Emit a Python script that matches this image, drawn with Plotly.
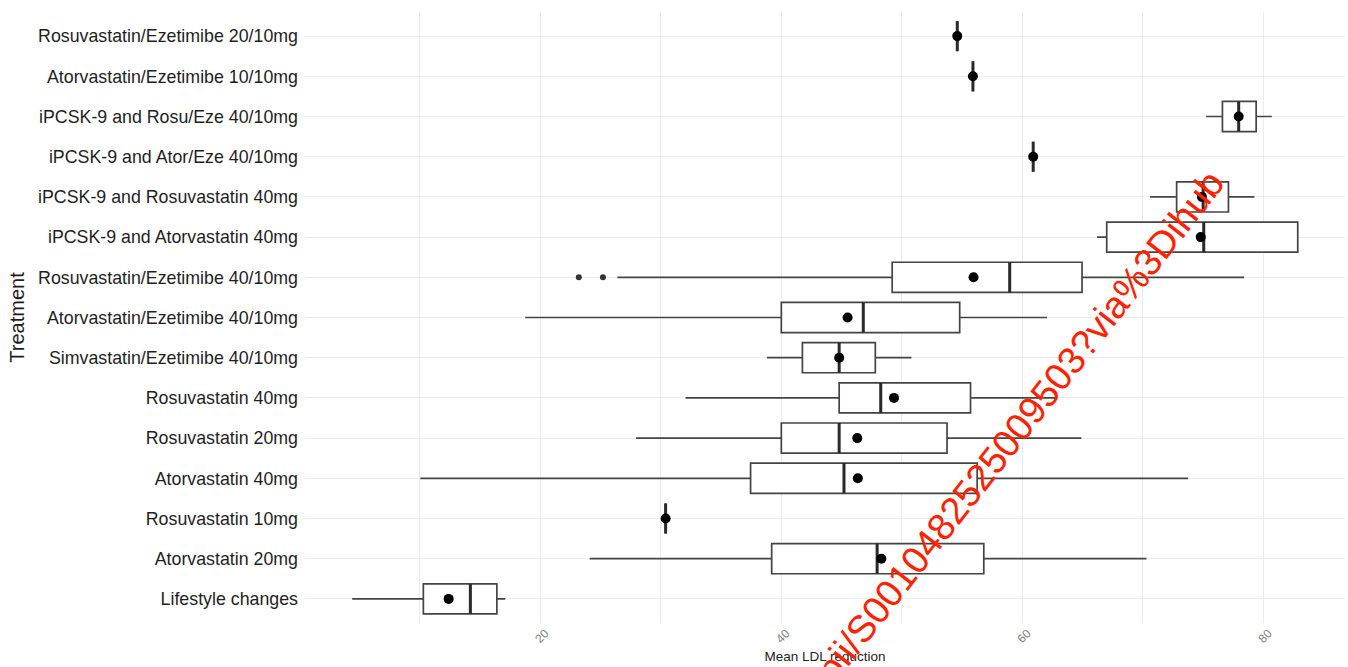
import plotly.graph_objects as go

# Treatments listed top to bottom
treatments = [
    "Rosuvastatin/Ezetimibe 20/10mg",
    "Atorvastatin/Ezetimibe 10/10mg",
    "iPCSK-9 and Rosu/Eze 40/10mg",
    "iPCSK-9 and Ator/Eze 40/10mg",
    "iPCSK-9 and Rosuvastatin 40mg",
    "iPCSK-9 and Atorvastatin 40mg",
    "Rosuvastatin/Ezetimibe 40/10mg",
    "Atorvastatin/Ezetimibe 40/10mg",
    "Simvastatin/Ezetimibe 40/10mg",
    "Rosuvastatin 40mg",
    "Rosuvastatin 20mg",
    "Atorvastatin 40mg",
    "Rosuvastatin 10mg",
    "Atorvastatin 20mg",
    "Lifestyle changes",
]

# Box summaries of mean LDL reduction (%)
lower_whisker = [54.6, 55.9, 75.25, 60.9, 70.6, 66.2, 26.4, 18.75, 38.8, 32.05, 27.95, 10.05, 30.4, 24.1, 4.4]
q1_values     = [54.6, 55.9, 76.6, 60.9, 72.8, 67.0, 49.2, 40.0, 41.75, 44.8, 40.0, 37.45, 30.4, 39.2, 10.3]
median_values = [54.6, 55.9, 77.95, 60.9, 75.0, 75.05, 58.95, 46.8, 44.8, 48.25, 44.8, 45.2, 30.4, 47.95, 14.2]
q3_values     = [54.6, 55.9, 79.4, 60.9, 77.1, 82.85, 64.95, 54.8, 47.8, 55.7, 53.75, 56.25, 30.4, 56.8, 16.4]
upper_whisker = [54.6, 55.9, 80.7, 60.9, 79.25, 82.85, 78.4, 62.05, 50.8, 62.9, 64.9, 73.75, 30.4, 70.3, 17.1]
mean_values   = [54.6, 55.9, 77.95, 60.9, 74.9, 74.8, 55.95, 45.5, 44.8, 49.35, 46.3, 46.35, 30.4, 48.3, 12.4]

# Outlying studies
outlier_treatment = ["Rosuvastatin/Ezetimibe 40/10mg", "Rosuvastatin/Ezetimibe 40/10mg"]
outlier_values = [23.2, 25.2]

n = len(treatments)
pos = {t: n - i for i, t in enumerate(treatments)}
ypos = [pos[t] for t in treatments]
box_w = 0.75

fig = go.Figure()

fig.add_trace(go.Box(
    orientation="h",
    y=ypos,
    q1=q1_values,
    median=median_values,
    q3=q3_values,
    lowerfence=lower_whisker,
    upperfence=upper_whisker,
    width=box_w,
    fillcolor="white",
    line=dict(color="#444444", width=1.7),
    whiskerwidth=0,
    boxpoints=False,
    showlegend=False,
    hoverinfo="skip",
))

# Thicker median strokes
mx, my = [], []
for m, p in zip(median_values, ypos):
    mx += [m, m, None]
    my += [p - box_w / 2, p + box_w / 2, None]
fig.add_trace(go.Scatter(
    x=mx, y=my, mode="lines",
    line=dict(color="#2a2a2a", width=3),
    showlegend=False, hoverinfo="skip",
))

# Outliers
fig.add_trace(go.Scatter(
    x=outlier_values, y=[pos[t] for t in outlier_treatment], mode="markers",
    marker=dict(color="#333333", size=6),
    showlegend=False, hoverinfo="skip",
))

# Mean markers
fig.add_trace(go.Scatter(
    x=mean_values, y=ypos, mode="markers",
    marker=dict(color="black", size=10),
    showlegend=False, hoverinfo="skip",
))

fig.add_annotation(
    text="https://www.sciencedirect.com/science/article/pii/S0010482525009503?via%3Dihub",
    xref="paper", yref="paper", x=0.459, y=-0.1745,
    xanchor="center", yanchor="middle",
    showarrow=False, textangle=-52,
    font=dict(family="Liberation Sans, Arial, sans-serif", size=38, color="#ff2200"),
)

fig.update_layout(
    width=1348, height=667,
    margin=dict(l=305, r=3, t=12, b=44),
    paper_bgcolor="white", plot_bgcolor="white",
    font=dict(family="Liberation Sans, Arial, sans-serif"),
    xaxis=dict(
        range=[0.48, 86.77],
        tickvals=[20, 40, 60, 80],
        tickangle=-45,
        ticklabelshift=5,
        tickfont=dict(size=12, color="#7f7f7f"),
        showgrid=True, gridcolor="#ebebeb", gridwidth=1.2,
        minor=dict(dtick=10, tick0=0, showgrid=True, gridcolor="#ebebeb", gridwidth=1),
        zeroline=False, showline=False, ticks="",
        title=dict(text="Mean LDL reduction", font=dict(size=13.5, color="#222222"), standoff=6),
    ),
    yaxis=dict(
        range=[0.4, n + 0.6],
        tickvals=ypos,
        ticktext=treatments,
        tickfont=dict(size=17.8, color="#1e1e1e"),
        showgrid=True, gridcolor="#ebebeb", gridwidth=1.2,
        zeroline=False, showline=False, ticks="",
        ticklabelstandoff=6,
        title=dict(text="Treatment", font=dict(size=20, color="#1e1e1e"), standoff=8),
    ),
)

fig.write_html("out.html")
